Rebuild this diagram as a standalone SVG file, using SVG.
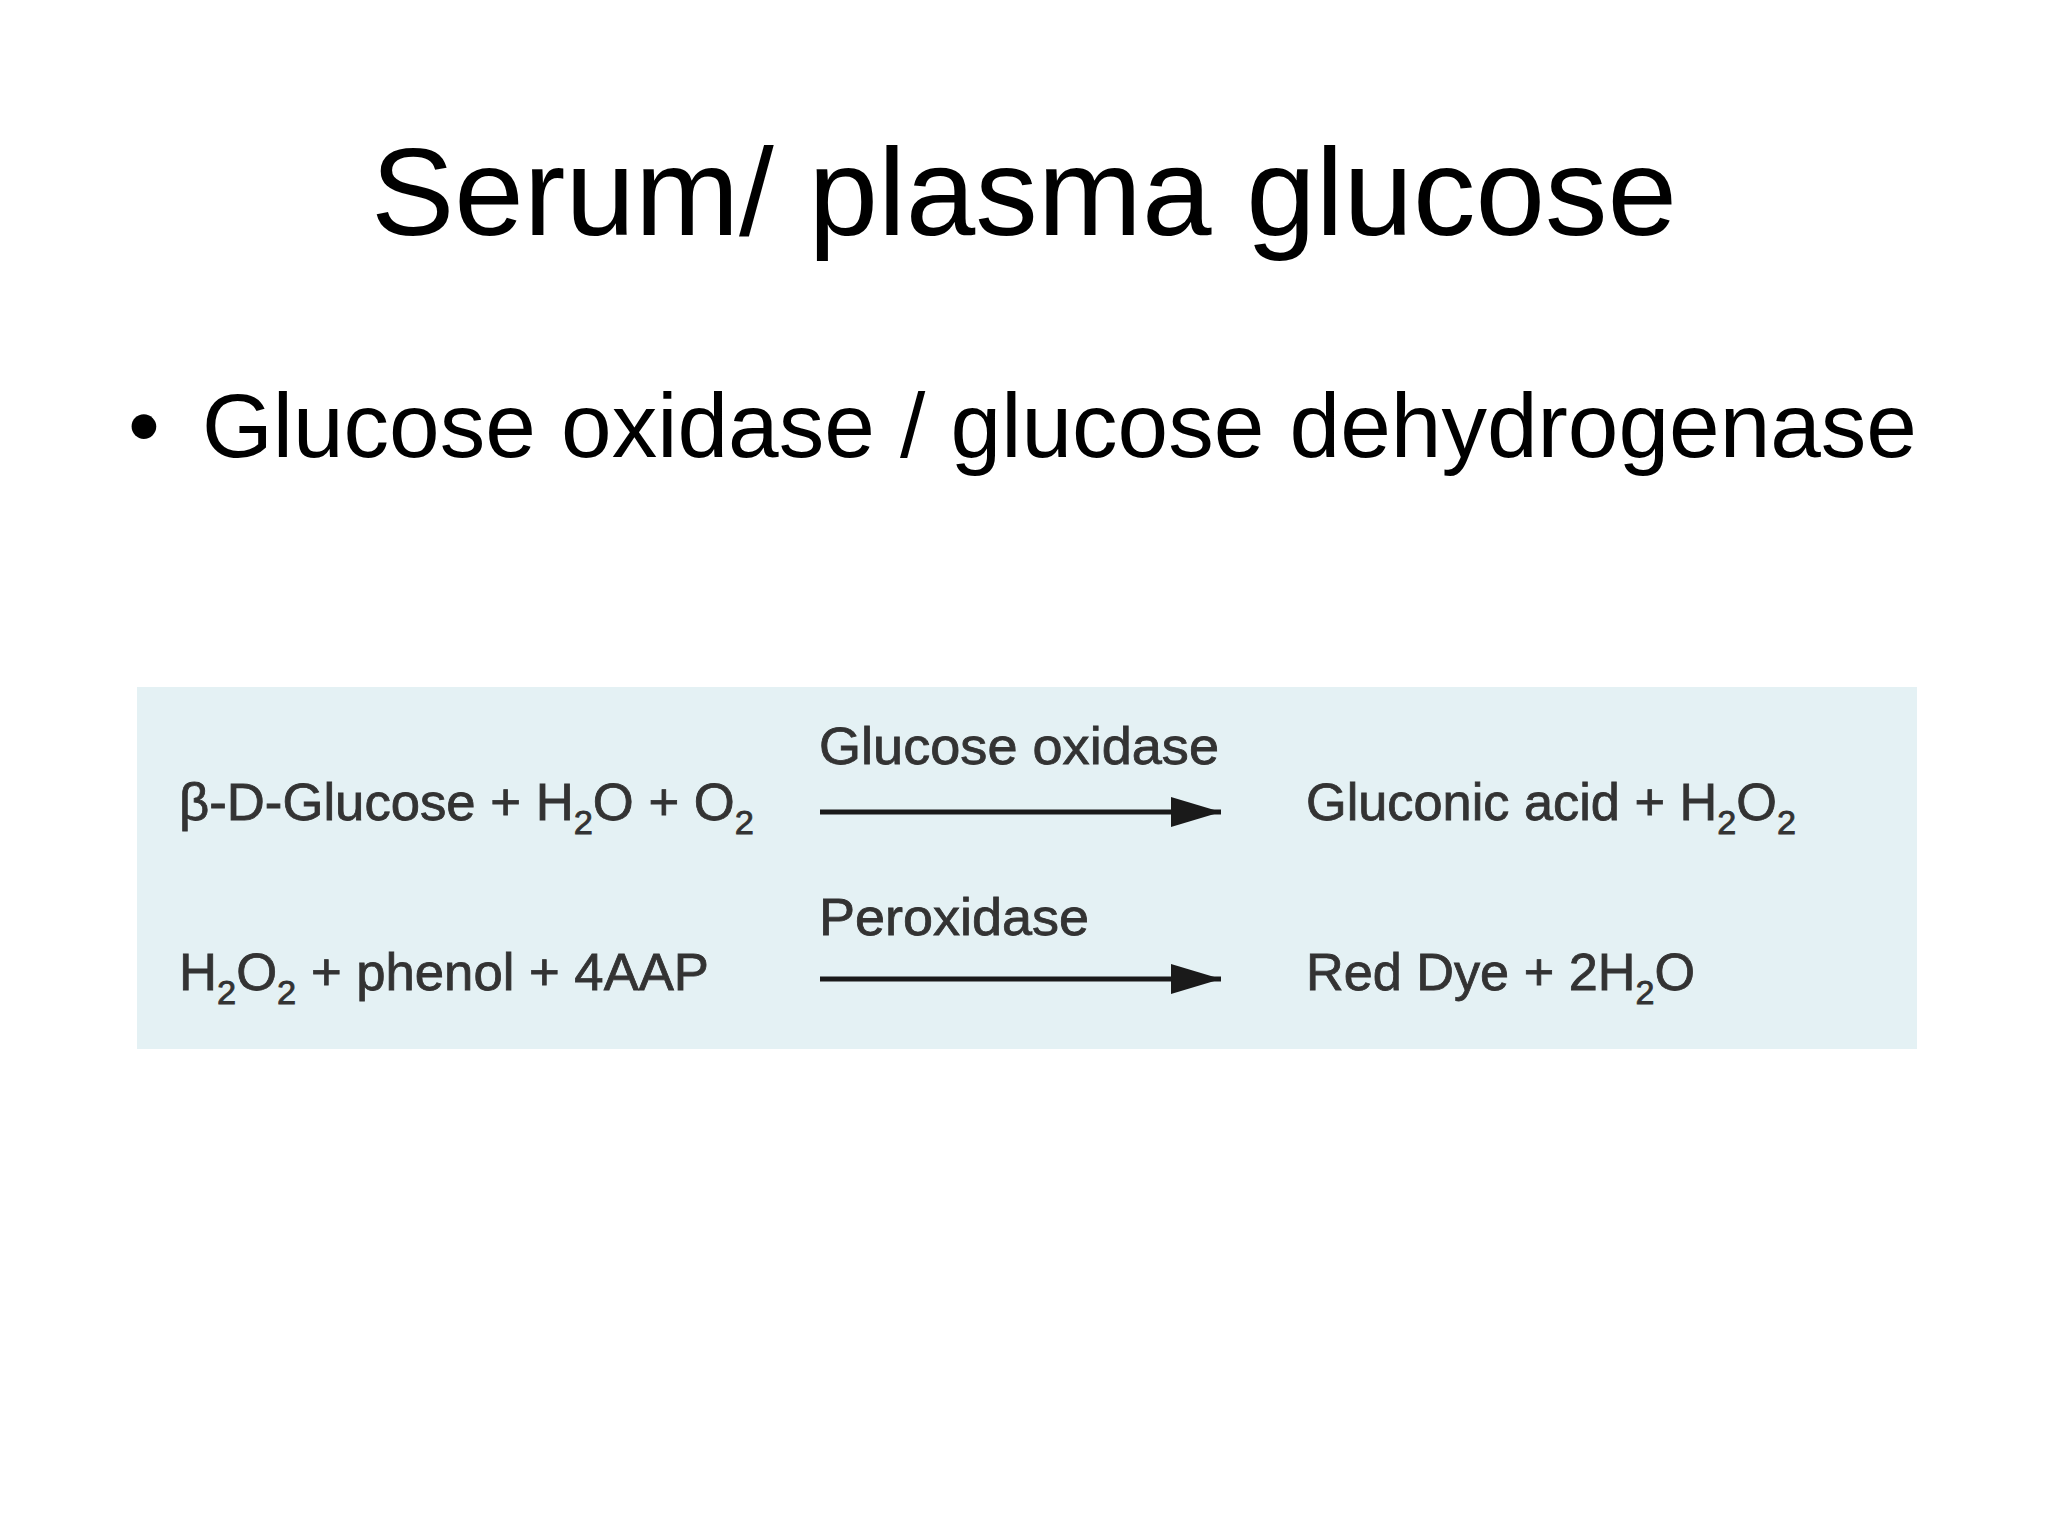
<svg xmlns="http://www.w3.org/2000/svg" width="2048" height="1536" viewBox="0 0 2048 1536">
<style>
.t{font-family:"Liberation Sans",Arial,sans-serif;fill:#000}
.r{font-family:"Liberation Sans",Arial,sans-serif;fill:#333;font-size:52px;stroke:#333;stroke-width:0.8}
.s{font-size:34px}
</style>
<defs><marker id="ah" markerWidth="10" markerHeight="6" refX="10" refY="3" orient="auto" markerUnits="strokeWidth"><path d="M0,0 L10,3 L0,6 Z" fill="#1a1a1a"/></marker></defs>
<rect width="2048" height="1536" fill="#fff"/>
<text class="t" x="1024" y="235" font-size="125" text-anchor="middle">Serum/ plasma glucose</text>
<text class="t" x="128" y="457" font-size="91">•</text>
<text class="t" x="202" y="457" font-size="91">Glucose oxidase / glucose dehydrogenase</text>
<g id="panel"><rect x="137" y="687" width="1780" height="362" fill="#e4f1f4"/></g>
<g id="connectors" stroke="#1a1a1a" stroke-width="5">
<line x1="820" y1="812" x2="1221" y2="812" marker-end="url(#ah)"/>
<line x1="820" y1="979" x2="1221" y2="979" marker-end="url(#ah)"/>
</g>
<g id="r1l"><text class="r" x="179" y="820" textLength="575" lengthAdjust="spacingAndGlyphs">β-D-Glucose + H<tspan class="s" dy="14">2</tspan><tspan dy="-14">O + O</tspan><tspan class="s" dy="14">2</tspan></text></g>
<g id="e1"><text class="r" x="819" y="764" textLength="400" lengthAdjust="spacingAndGlyphs">Glucose oxidase</text></g>
<g id="r1r"><text class="r" x="1306" y="820" textLength="490" lengthAdjust="spacingAndGlyphs">Gluconic acid + H<tspan class="s" dy="14">2</tspan><tspan dy="-14">O</tspan><tspan class="s" dy="14">2</tspan></text></g>
<g id="r2l"><text class="r" x="179" y="990" textLength="530" lengthAdjust="spacingAndGlyphs">H<tspan class="s" dy="14">2</tspan><tspan dy="-14">O</tspan><tspan class="s" dy="14">2</tspan><tspan dy="-14"> + phenol + 4AAP</tspan></text></g>
<g id="e2"><text class="r" x="819" y="935" textLength="270" lengthAdjust="spacingAndGlyphs">Peroxidase</text></g>
<g id="r2r"><text class="r" x="1306" y="990" textLength="389" lengthAdjust="spacingAndGlyphs">Red Dye + 2H<tspan class="s" dy="14">2</tspan><tspan dy="-14">O</tspan></text></g>
</svg>
